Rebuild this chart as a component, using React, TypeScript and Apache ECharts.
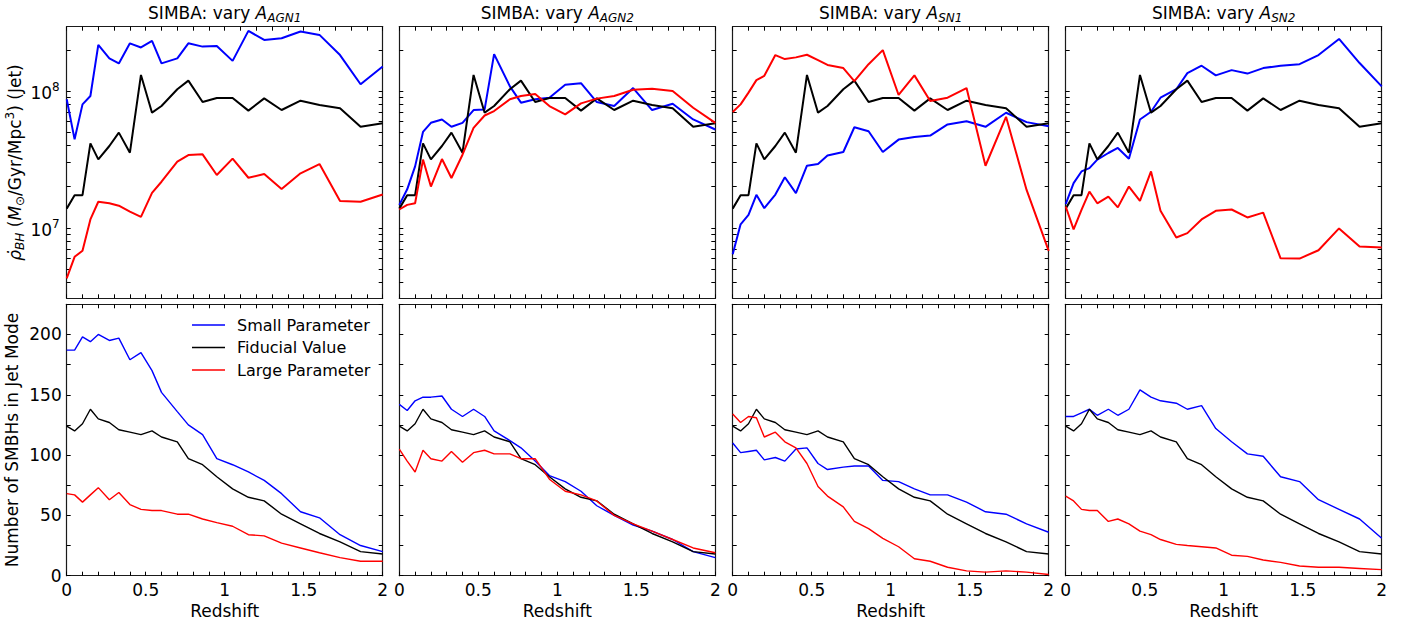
import React, { useEffect, useRef } from 'react';
import * as echarts from 'echarts';

// ---------------- data ----------------
const redshift = [0, 0.05, 0.1, 0.15, 0.2, 0.27, 0.33, 0.4, 0.47, 0.54, 0.6, 0.7, 0.77, 0.86, 0.95, 1.05, 1.15, 1.25, 1.36, 1.48, 1.6, 1.73, 1.86, 2.0];

// BH accretion rate density in jet mode (Msun/Gyr/Mpc^3)
const rateFiducial = [1.38e7, 1.73e7, 1.73e7, 4.14e7, 3.16e7, 3.96e7, 4.96e7, 3.54e7, 1.31e8, 6.94e7, 7.76e7, 1.03e8, 1.19e8, 8.31e7, 8.89e7, 8.89e7, 7.18e7, 8.83e7, 7.26e7, 8.49e7, 7.9e7, 7.47e7, 5.48e7, 5.8e7];
const rateSmallAGN1 = [8.69e7, 4.43e7, 7.98e7, 9.19e7, 2.17e8, 1.73e8, 1.59e8, 2.23e8, 2.08e8, 2.32e8, 1.59e8, 1.73e8, 2.23e8, 2.11e8, 2.13e8, 1.66e8, 2.75e8, 2.36e8, 2.43e8, 2.72e8, 2.57e8, 1.83e8, 1.12e8, 1.51e8];
const rateLargeAGN1 = [4.26e6, 6.13e6, 6.79e6, 1.15e7, 1.55e7, 1.51e7, 1.45e7, 1.31e7, 1.2e7, 1.8e7, 2.17e7, 3.04e7, 3.4e7, 3.44e7, 2.43e7, 3.2e7, 2.32e7, 2.47e7, 1.92e7, 2.5e7, 2.92e7, 1.57e7, 1.55e7, 1.75e7];
const rateSmallAGN2 = [1.47e7, 1.91e7, 2.81e7, 5.02e7, 5.85e7, 6.19e7, 5.47e7, 5.85e7, 7.25e7, 7.33e7, 1.86e8, 1.08e8, 8.21e7, 8.69e7, 8.93e7, 1.11e8, 1.14e8, 8.3e7, 7.76e7, 1.05e8, 7.25e7, 8.07e7, 6.19e7, 5.23e7];
const rateLargeAGN2 = [1.36e7, 1.47e7, 1.51e7, 3.15e7, 2.0e7, 3.18e7, 2.31e7, 3.42e7, 5.37e7, 6.62e7, 7.13e7, 8.69e7, 9.19e7, 9.5e7, 7.76e7, 6.74e7, 8.12e7, 8.79e7, 9.19e7, 1.02e8, 1.04e8, 1.0e8, 7.54e7, 5.85e7];
const rateSmallSN1 = [6.4e6, 1.06e7, 1.24e7, 1.74e7, 1.39e7, 1.75e7, 2.34e7, 1.79e7, 2.84e7, 2.92e7, 3.37e7, 3.58e7, 5.43e7, 5.08e7, 3.58e7, 4.41e7, 4.61e7, 4.72e7, 5.69e7, 6.01e7, 5.47e7, 6.93e7, 5.92e7, 5.53e7];
const rateLargeSN1 = [7.01e7, 7.98e7, 9.72e7, 1.2e8, 1.29e8, 1.83e8, 1.71e8, 1.76e8, 1.84e8, 1.68e8, 1.55e8, 1.47e8, 1.18e8, 1.57e8, 1.99e8, 9.35e7, 1.3e8, 8.44e7, 8.93e7, 1.05e8, 2.84e7, 6.47e7, 1.89e7, 6.78e6];
const rateSmallSN2 = [1.49e7, 2.12e7, 2.58e7, 2.73e7, 3.15e7, 3.52e7, 3.83e7, 3.2e7, 6.19e7, 7.05e7, 8.93e7, 1.03e8, 1.35e8, 1.53e8, 1.3e8, 1.42e8, 1.34e8, 1.47e8, 1.53e8, 1.57e8, 1.83e8, 2.4e8, 1.6e8, 1.08e8];
const rateLargeSN2 = [1.43e7, 9.73e6, 1.35e7, 1.84e7, 1.51e7, 1.69e7, 1.41e7, 2.0e7, 1.57e7, 2.58e7, 1.33e7, 8.49e6, 9.14e6, 1.15e7, 1.33e7, 1.36e7, 1.19e7, 1.29e7, 5.98e6, 5.95e6, 6.85e6, 9.89e6, 7.29e6, 7.16e6];

// Number of SMBHs in jet mode
const countFiducial = [124, 120, 126, 138, 130, 127, 121, 119, 117, 120, 115, 111, 97, 92, 82, 72, 65, 62, 51, 43, 35, 28, 20, 18];
const countSmallAGN1 = [187, 187, 198, 194, 200, 195, 197, 179, 185, 170, 152, 136, 125, 117, 97, 92, 86, 79, 68, 53, 48, 34, 25, 20];
const countLargeAGN1 = [68, 67, 61, 67, 73, 63, 69, 59, 55, 54, 54, 51, 51, 47, 44, 41, 34, 33, 27, 23, 19, 15, 12, 12];
const countSmallAGN2 = [142, 137, 145, 148, 148, 149, 138, 132, 138, 132, 120, 112, 106, 95, 83, 78, 70, 58, 50, 42, 37, 30, 20, 15];
const countLargeAGN2 = [105, 95, 86, 104, 97, 95, 103, 94, 102, 104, 101, 101, 97, 97, 80, 70, 67, 62, 50, 43, 37, 30, 23, 19];
const countSmallSN1 = [110, 102, 103, 104, 96, 98, 95, 105, 106, 93, 88, 90, 91, 91, 79, 78, 72, 67, 67, 61, 53, 51, 43, 36];
const countLargeSN1 = [134, 127, 132, 131, 115, 119, 111, 106, 93, 74, 66, 57, 45, 39, 31, 24, 14, 12, 7, 4, 3, 4, 3, 1];
const countSmallSN2 = [132, 132, 135, 138, 133, 138, 133, 138, 154, 148, 145, 143, 138, 141, 122, 111, 101, 99, 82, 78, 63, 55, 47, 31];
const countLargeSN2 = [66, 62, 55, 54, 54, 45, 47, 43, 37, 34, 30, 26, 25, 24, 23, 17, 16, 13, 11, 8, 7, 7, 6, 5];

const panelParams = ['AGN1', 'AGN2', 'SN1', 'SN2'];
const seriesNames = ['Small Parameter', 'Fiducial Value', 'Large Parameter'];
const seriesColors = ['#0000ff', '#000000', '#ff0000'];

const rateSets = [
  [rateSmallAGN1, rateFiducial, rateLargeAGN1],
  [rateSmallAGN2, rateFiducial, rateLargeAGN2],
  [rateSmallSN1, rateFiducial, rateLargeSN1],
  [rateSmallSN2, rateFiducial, rateLargeSN2],
];
const countSets = [
  [countSmallAGN1, countFiducial, countLargeAGN1],
  [countSmallAGN2, countFiducial, countLargeAGN2],
  [countSmallSN1, countFiducial, countLargeSN1],
  [countSmallSN2, countFiducial, countLargeSN2],
];

const logMajorTicks = [1e7, 1e8];
const logMinorTicks = [4e6, 5e6, 6e6, 7e6, 8e6, 9e6, 2e7, 3e7, 4e7, 5e7, 6e7, 7e7, 8e7, 9e7, 2e8];

// ---------------- layout ----------------
const FONT = 'DejaVu Sans';
const colLeft = [66.7, 399.3, 732.7, 1065.7];
const colW = 316;
const rowTop = [26.7, 304.3];
const rowH = [271.6, 271.4];

function buildOption() {
  const grid: any[] = [];
  const xAxis: any[] = [];
  const yAxis: any[] = [];
  const series: any[] = [];
  const title: any[] = [];

  const lineCol = '#1a1a1a';
  const tick = (extra: any = {}) => ({
    show: true,
    inside: true,
    length: 4,
    lineStyle: { color: '#000', width: 1 },
    ...extra,
  });
  const axisLine = { show: true, onZero: false, lineStyle: { color: lineCol, width: 1.2 } };
  const labelStyle = { fontFamily: FONT, fontSize: 17, color: '#000', fontWeight: 'normal' };

  for (let c = 0; c < 4; c++) {
    title.push({
      left: colLeft[c] + colW / 2,
      top: 2,
      textAlign: 'center',
      padding: 0,
      text: `{n|SIMBA: vary }{i|A}{s|${panelParams[c]}}`,
      textStyle: {
        fontFamily: FONT,
        fontWeight: 'normal',
        fontSize: 17,
        color: '#000',
        rich: {
          n: { fontFamily: FONT, fontSize: 17, fontWeight: 'normal', color: '#000' },
          i: { fontFamily: FONT, fontSize: 17, fontStyle: 'italic', fontWeight: 'normal', color: '#000' },
          s: { fontFamily: FONT, fontSize: 12, fontStyle: 'italic', fontWeight: 'normal', color: '#000', padding: [10, 0, 0, 0] },
        },
      },
    });
  }

  for (let r = 0; r < 2; r++) {
    for (let c = 0; c < 4; c++) {
      const gi = r * 4 + c;
      grid.push({ left: colLeft[c], top: rowTop[r], width: colW, height: rowH[r], containLabel: false });

      const xBase = {
        gridIndex: gi,
        type: 'value',
        min: 0,
        max: 2,
        interval: 0.5,
        axisLine,
        axisTick: tick(),
        minorTick: { show: true, splitNumber: 5, length: 4, lineStyle: { color: '#000', width: 1 } },
        splitLine: { show: false },
        minorSplitLine: { show: false },
      };
      xAxis.push({
        ...xBase,
        position: 'bottom',
        axisLabel: { show: r === 1, margin: 6, ...labelStyle },
        name: r === 1 ? 'Redshift' : '',
        nameLocation: 'middle',
        nameGap: 27,
        nameTextStyle: labelStyle,
      });
      xAxis.push({ ...xBase, position: 'top', axisLabel: { show: false } });

      if (r === 0) {
        const yBase = {
          gridIndex: gi,
          type: 'log',
          logBase: 10,
          min: 3.05e6,
          max: 2.95e8,
          axisLine,
          axisTick: tick({ customValues: [...logMajorTicks, ...logMinorTicks] }),
          minorTick: { show: false },
          splitLine: { show: false },
          minorSplitLine: { show: false },
        };
        yAxis.push({
          ...yBase,
          position: 'left',
          axisLabel: {
            show: c === 0,
            margin: 7,
            customValues: logMajorTicks,
            formatter: (v: number) => `{b|10}{p|${Math.round(Math.log10(v))}}`,
            rich: {
              b: { fontFamily: FONT, fontSize: 17, color: '#000', padding: [4, 0, 0, 0] },
              p: { fontFamily: FONT, fontSize: 12, color: '#000', padding: [0, 0, 8, 0] },
            },
          },
          name: c === 0 ? '{i|ρ\u0307}{s|BH}{n| (}{i|M}{s|\u2299}{n|/Gyr/Mpc}{p|3}{n|) (Jet)}' : '',
          nameLocation: 'middle',
          nameRotate: 90,
          nameGap: 41,
          nameTextStyle: {
            rich: {
              n: { fontFamily: FONT, fontSize: 17, color: '#000' },
              i: { fontFamily: FONT, fontSize: 17, fontStyle: 'italic', color: '#000' },
              s: { fontFamily: FONT, fontSize: 12, fontStyle: 'italic', color: '#000', padding: [10, 0, 0, 0] },
              p: { fontFamily: FONT, fontSize: 12, color: '#000', padding: [0, 0, 9, 0] },
            },
          },
        });
        yAxis.push({ ...yBase, position: 'right', axisLabel: { show: false } });
      } else {
        const yBase = {
          gridIndex: gi,
          type: 'value',
          min: 0,
          max: 225,
          interval: 25,
          axisLine,
          axisTick: tick(),
          splitLine: { show: false },
        };
        yAxis.push({
          ...yBase,
          position: 'left',
          axisLabel: {
            show: c === 0,
            margin: 5,
            ...labelStyle,
            formatter: (v: number) => (v % 50 === 0 ? String(v) : ''),
          },
          name: c === 0 ? 'Number of SMBHs in Jet Mode' : '',
          nameLocation: 'middle',
          nameRotate: 90,
          nameGap: 46,
          nameTextStyle: labelStyle,
        });
        yAxis.push({ ...yBase, position: 'right', axisLabel: { show: false } });
      }

      const sets = r === 0 ? rateSets[c] : countSets[c];
      for (let k = 0; k < 3; k++) {
        series.push({
          type: 'line',
          name: seriesNames[k],
          xAxisIndex: gi * 2,
          yAxisIndex: gi * 2,
          data: redshift.map((z, i) => [z, sets[k][i]]),
          symbol: 'none',
          silent: true,
          clip: true,
          lineStyle: { color: seriesColors[k], width: r === 0 ? 2 : 1.4 },
          itemStyle: { color: seriesColors[k] },
          z: 2 + k,
        });
      }
    }
  }

  return {
    animation: false,
    backgroundColor: '#ffffff',
    title,
    grid,
    xAxis,
    yAxis,
    series,
    legend: {
      left: 192,
      top: 317,
      orient: 'vertical',
      icon: 'rect',
      itemWidth: 33,
      itemHeight: 1.6,
      itemGap: 6.5,
      padding: 0,
      data: seriesNames,
      textStyle: { fontFamily: FONT, fontSize: 16, color: '#000', padding: [0, 0, 0, 7], lineHeight: 14 },
      selectedMode: false,
    },
  };
}

export default function App() {
  const ref = useRef<HTMLDivElement>(null);
  useEffect(() => {
    if (!ref.current) return;
    const chart = echarts.init(ref.current, undefined, { renderer: 'svg' });
    chart.setOption(buildOption() as any);
    return () => chart.dispose();
  }, []);
  return (
    <div
      ref={ref}
      style={{ position: 'absolute', left: 0, top: 0, width: 1412, height: 625, background: '#fff' }}
    />
  );
}
